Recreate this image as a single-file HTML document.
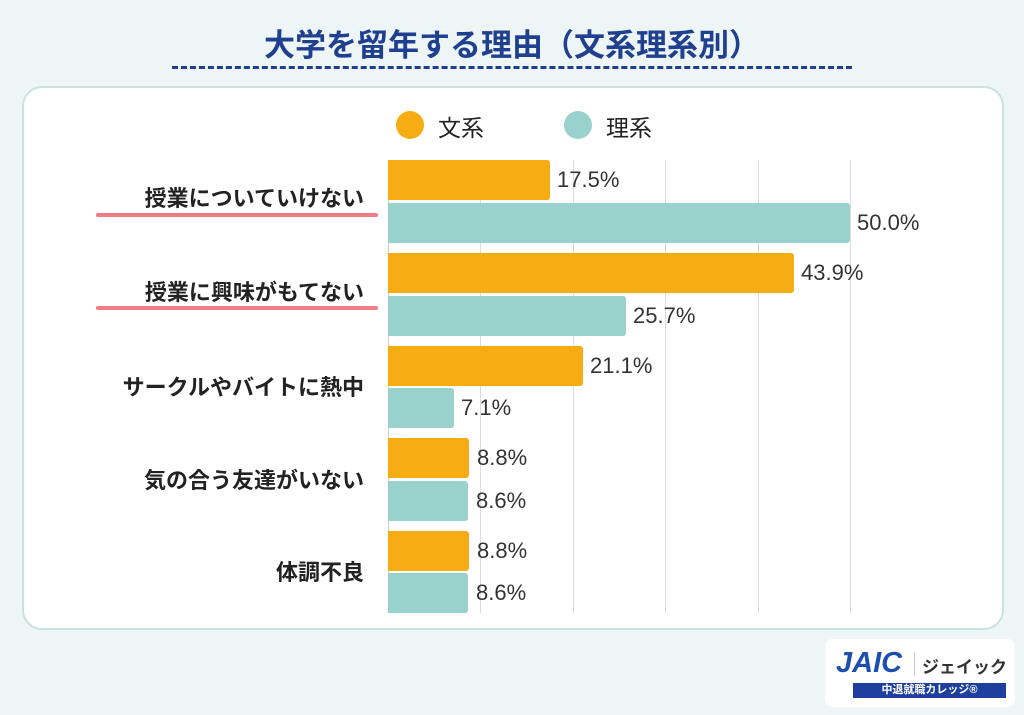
<!DOCTYPE html>
<html><head><meta charset="utf-8"><style>
body{margin:0;width:1024px;height:715px;background:#eef5f7;font-family:"Liberation Sans","Noto Sans CJK JP",sans-serif;position:relative;overflow:hidden}
.a{position:absolute}
.t{font-weight:bold;font-size:31px;color:#1f3f8f;left:0;width:1024px;text-align:center;top:20px}
.dash{left:172px;top:66px;width:680px;border-top:3px dashed #1f3f8f}
.panel{left:22px;top:86px;width:978px;height:540px;background:#fff;border:2px solid #c9e2df;border-radius:20px}
.g{top:160px;height:453px;width:1px;background:#ddd}
.bo{background:#f6ad14;height:40px;left:388px;border-radius:0 3px 3px 0}
.bt{background:#99d1cd;height:40px;left:388px;border-radius:0 3px 3px 0}
.v{font-size:22px;color:#333;line-height:40px}
.l{font-size:22px;font-weight:bold;color:#222;right:660px;text-align:right;white-space:nowrap}
.u{height:4px;background:#f07c84;border-radius:2px;left:96px;width:282px}
.dot{width:28px;height:28px;border-radius:50%}
.lg{font-size:23px;color:#222}
</style></head><body>
<div class="a t">大学を留年する理由（文系理系別）</div>
<div class="a dash"></div>
<div class="a panel"></div>
<div class="a dot" style="left:396px;top:111px;background:#f6ad14"></div>
<div class="a lg" style="left:438px;top:109px">文系</div>
<div class="a dot" style="left:564px;top:111px;background:#99d1cd"></div>
<div class="a lg" style="left:606px;top:109px">理系</div>
<div class="a g" style="left:480px"></div>
<div class="a g" style="left:573px"></div>
<div class="a g" style="left:665px"></div>
<div class="a g" style="left:758px"></div>
<div class="a g" style="left:850px"></div>
<div class="a g" style="left:388px;background:#ccc"></div>

<div class="a bo" style="top:160px;width:162px"></div><div class="a v" style="top:160px;left:557px">17.5%</div>
<div class="a bt" style="top:203px;width:462px"></div><div class="a v" style="top:203px;left:857px">50.0%</div>
<div class="a bo" style="top:253px;width:406px"></div><div class="a v" style="top:253px;left:801px">43.9%</div>
<div class="a bt" style="top:296px;width:238px"></div><div class="a v" style="top:296px;left:633px">25.7%</div>
<div class="a bo" style="top:346px;width:195px"></div><div class="a v" style="top:346px;left:590px">21.1%</div>
<div class="a bt" style="top:388px;width:66px"></div><div class="a v" style="top:388px;left:461px">7.1%</div>
<div class="a bo" style="top:438px;width:81px"></div><div class="a v" style="top:438px;left:477px">8.8%</div>
<div class="a bt" style="top:481px;width:80px"></div><div class="a v" style="top:481px;left:476px">8.6%</div>
<div class="a bo" style="top:531px;width:81px"></div><div class="a v" style="top:531px;left:477px">8.8%</div>
<div class="a bt" style="top:573px;width:80px"></div><div class="a v" style="top:573px;left:476px">8.6%</div>

<div class="a l" style="top:181px">授業についていけない</div>
<div class="a u" style="top:213px"></div>
<div class="a l" style="top:275px">授業に興味がもてない</div>
<div class="a u" style="top:306px"></div>
<div class="a l" style="top:370px">サークルやバイトに熱中</div>
<div class="a l" style="top:463px">気の合う友達がいない</div>
<div class="a l" style="top:555px">体調不良</div>

<div class="a" style="left:825px;top:639px;width:190px;height:68px;background:#fff;border-radius:8px"></div>
<div class="a" style="left:836px;top:647px;font-size:29px;font-weight:bold;color:#1f4fae;font-style:italic">JAIC</div>
<div class="a" style="left:914px;top:652px;width:1px;height:24px;background:#ccc"></div>
<div class="a" style="left:922px;top:653px;font-size:17px;font-weight:bold;color:#333">ジェイック</div>
<div class="a" style="left:853px;top:683px;width:153px;height:15px;background:#1f3f9f;color:#fff;font-size:11px;text-align:center;line-height:15px;font-weight:bold">中退就職カレッジ®</div>
</body></html>
